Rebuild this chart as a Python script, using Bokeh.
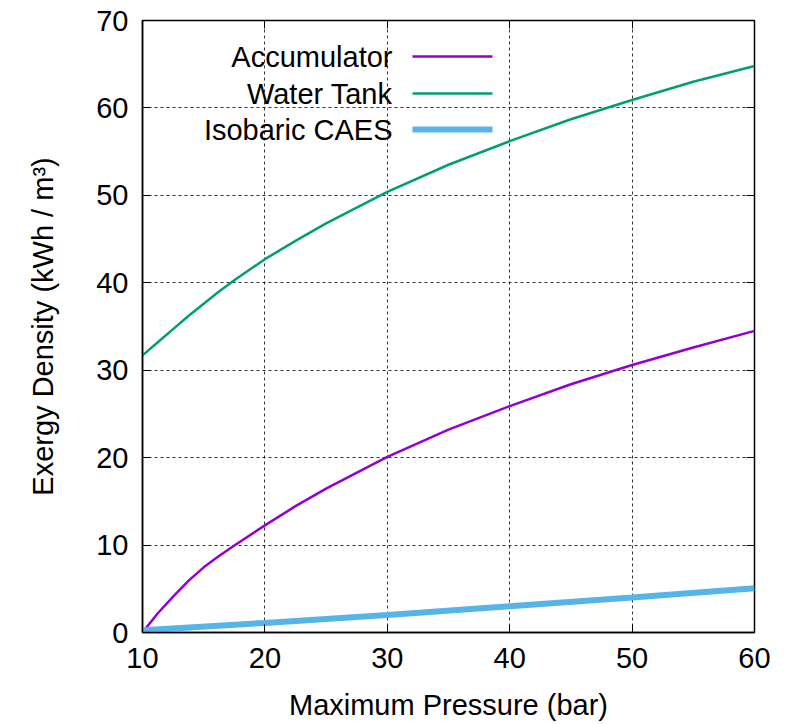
from bokeh.plotting import figure
from bokeh.models import (Range1d, LinearAxis, FixedTicker, Label, BoxAnnotation)
from bokeh.embed import file_html
from bokeh.resources import INLINE

# ---- data ----
pressure = [10, 11.25, 12.5, 13.75, 15, 16.25, 17.5, 20, 22.5, 25, 30, 35, 40, 45, 50, 55, 60]
accumulator = [0.0, 2.2, 4.1, 5.9, 7.45, 8.75, 9.95, 12.25, 14.45, 16.45, 20.1, 23.2, 25.9, 28.4, 30.6, 32.6, 34.5]
water_tank = [31.7, 33.2, 34.7, 36.2, 37.6, 39.0, 40.3, 42.7, 44.8, 46.8, 50.4, 53.5, 56.2, 58.7, 60.9, 63.0, 64.8]
caes_pressure = [10, 20, 30, 40, 50, 60]
isobaric_caes = [0.25, 1.1, 2.0, 3.0, 4.0, 5.05]

series_names = ["Accumulator", "Water Tank", "Isobaric CAES"]
colors = ["#9400d3", "#009e73", "#56b4e9"]
widths = [2.5, 2.5, 6]

x_ticks = [10, 20, 30, 40, 50, 60]
y_ticks = [0, 10, 20, 30, 40, 50, 60, 70]

FONT = "Liberation Sans"
FS = "29px"

p = figure(width=788, height=724, output_backend="svg", toolbar_location=None,
           x_range=Range1d(10, 60), y_range=Range1d(0, 70),
           min_border_left=142, min_border_right=34, min_border_top=20,
           min_border_bottom=92)
p.outline_line_color = "black"
p.outline_line_width = 1.5
p.background_fill_color = "white"
p.border_fill_color = "white"

# grid
for g in (p.xgrid, p.ygrid):
    g.grid_line_color = "black"
    g.grid_line_dash = "3 3"
    g.grid_line_width = 1
    g.grid_line_alpha = 0.8
p.xgrid.ticker = FixedTicker(ticks=x_ticks)
p.ygrid.ticker = FixedTicker(ticks=y_ticks)

# axes
for ax in (p.xaxis[0], p.yaxis[0]):
    ax.major_tick_in = 8
    ax.major_tick_out = 0
    ax.minor_tick_in = 0
    ax.minor_tick_out = 0
    ax.axis_line_color = "black"
    ax.axis_line_width = 1.5
    ax.major_tick_line_color = "black"
    ax.major_label_text_font = FONT
    ax.major_label_text_font_size = FS
    ax.major_label_text_color = "black"
    ax.axis_label_text_font = FONT
    ax.axis_label_text_font_size = FS
    ax.axis_label_text_font_style = "normal"
    ax.axis_label_text_color = "black"
p.xaxis[0].ticker = FixedTicker(ticks=x_ticks)
p.yaxis[0].ticker = FixedTicker(ticks=y_ticks)
p.xaxis[0].axis_label = "Maximum Pressure (bar)"
p.yaxis[0].axis_label = "Exergy Density (kWh / m\u00b3)"
p.xaxis[0].major_label_standoff = 15
p.yaxis[0].major_label_standoff = 14
p.xaxis[0].axis_label_standoff = 18
p.yaxis[0].axis_label_standoff = 34

# mirrored ticks on top and right (no labels)
top = LinearAxis(ticker=FixedTicker(ticks=x_ticks), major_tick_in=8, major_tick_out=0,
                 minor_tick_in=0, minor_tick_out=0,
                 major_label_overrides={t: "" for t in x_ticks},
                 major_label_standoff=0, axis_line_color=None)
right = LinearAxis(ticker=FixedTicker(ticks=y_ticks), major_tick_in=8, major_tick_out=0,
                   minor_tick_in=0, minor_tick_out=0,
                   major_label_overrides={t: "" for t in y_ticks},
                   major_label_standoff=0, axis_line_color=None)
p.add_layout(top, "above")
p.add_layout(right, "right")

# curves
p.line(pressure, accumulator, line_color=colors[0], line_width=widths[0])
p.line(pressure, water_tank, line_color=colors[1], line_width=widths[1])
p.line(caes_pressure, isobaric_caes, line_color=colors[2], line_width=widths[2])

# custom legend (text left, sample line right), screen units relative to frame
row_y = [576, 539, 503]
for name, col, w, yy in zip(series_names, colors, widths, row_y):
    p.add_layout(Label(x=250, y=yy, x_units="screen", y_units="screen", text=name,
                       text_align="right", text_baseline="middle",
                       text_font=FONT, text_font_size=FS, text_color="black"))
    p.add_layout(BoxAnnotation(left=270, right=350, bottom=yy - w / 2, top=yy + w / 2,
                               left_units="screen", right_units="screen",
                               bottom_units="screen", top_units="screen",
                               fill_color=col, fill_alpha=1, line_color=None))

open("out.html", "w").write(file_html(p, INLINE))
